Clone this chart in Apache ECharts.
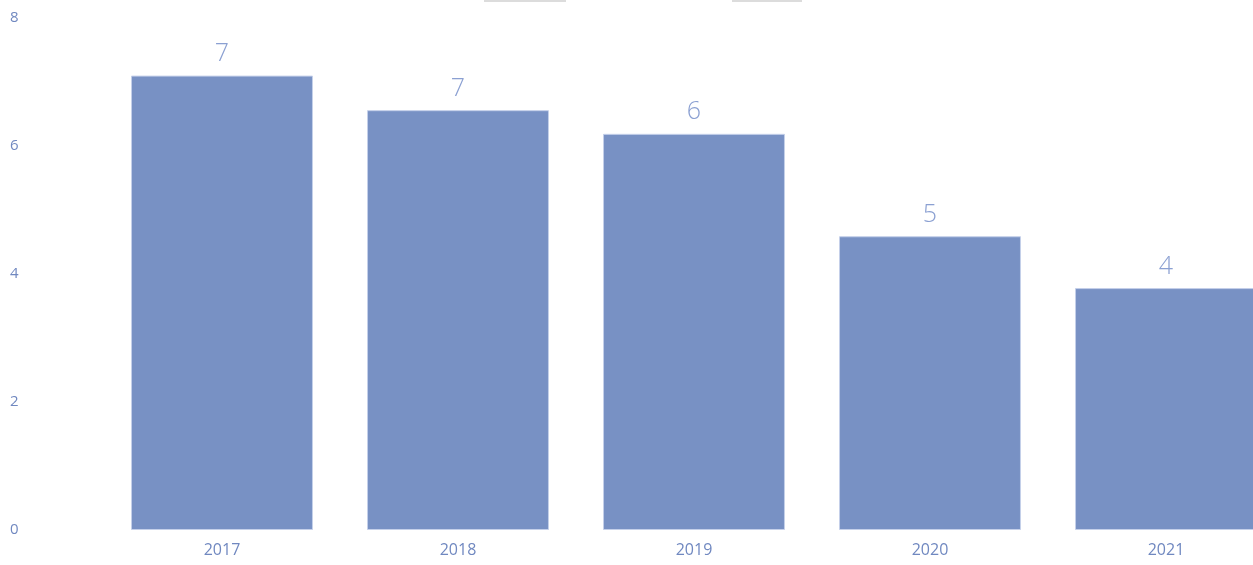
<!DOCTYPE html>
<html>
<head>
<meta charset="utf-8">
<script src="https://cdn.jsdelivr.net/npm/echarts@6/dist/echarts.min.js"></script>
<style>html,body{margin:0;padding:0;background:#fff;overflow:hidden}#c{width:1284px;height:565px}</style>
</head>
<body>
<div id="c"></div>
<script>
const categories = ['2017', '2018', '2019', '2020', '2021'];
const values = [7.1, 6.56, 6.19, 4.59, 3.78];
const yTicks = [0, 2, 4, 6, 8];

const chart = echarts.init(document.getElementById('c'), null, {renderer: 'canvas'});
chart.setOption({
  animation: false,
  grid: {left: 104, top: 18, bottom: 35, right: 0, containLabel: false},
  graphic: [
    {type: 'rect', left: 484, top: 0, shape: {width: 82, height: 2}, style: {fill: '#dcdcdc'}},
    {type: 'rect', left: 732, top: 0, shape: {width: 70, height: 2}, style: {fill: '#dcdcdc'}}
  ],
  xAxis: {
    type: 'category',
    data: categories,
    axisLine: {show: false},
    axisTick: {show: false},
    axisLabel: {color: '#7088c0', fontSize: 16, fontFamily: 'Open Sans', margin: 12}
  },
  yAxis: {
    type: 'value',
    min: yTicks[0], max: yTicks[yTicks.length - 1], interval: 2,
    splitLine: {show: false},
    axisLine: {show: false},
    axisTick: {show: false},
    axisLabel: {color: '#7088c0', fontSize: 15, fontFamily: 'Open Sans', align: 'left', margin: 94}
  },
  series: [{
    type: 'bar',
    data: values,
    barCategoryGap: '22.9%',
    itemStyle: {
      color: '#7891c4',
      borderColor: '#c5d0ea',
      borderWidth: 1
    },
    label: {
      show: true,
      position: 'top',
      distance: 9,
      color: '#8ba0d2',
      fontSize: 25,
      fontWeight: 300,
      fontFamily: 'Open Sans',
      formatter: p => Math.round(p.value)
    }
  }]
});
</script>
</body>
</html>
